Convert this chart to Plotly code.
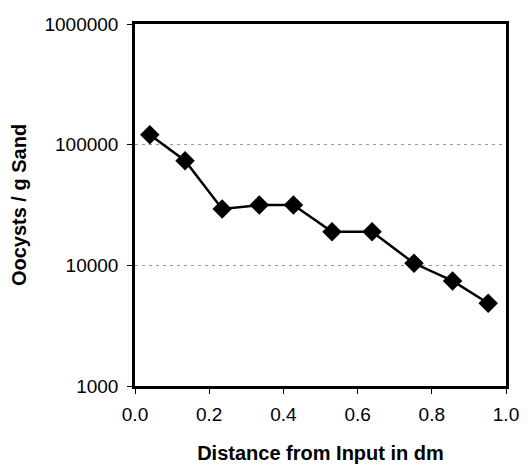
import plotly.graph_objects as go

distance_dm = [0.04, 0.135, 0.235, 0.335, 0.427, 0.531, 0.639, 0.752, 0.856, 0.952]
oocysts_per_g = [121000, 73700, 29300, 31600, 31600, 19000, 19000, 10400, 7430, 4850]

x_ticks = [0.0, 0.2, 0.4, 0.6, 0.8, 1.0]
x_tick_labels = ["0.0", "0.2", "0.4", "0.6", "0.8", "1.0"]
y_ticks = [1000, 10000, 100000, 1000000]
y_tick_labels = ["1000", "10000", "100000", "1000000"]

fig = go.Figure()
fig.add_trace(go.Scatter(
    x=distance_dm, y=oocysts_per_g, mode="lines+markers",
    line=dict(color="black", width=2.5),
    marker=dict(symbol="diamond", size=15, color="black"),
    showlegend=False, cliponaxis=False,
))

# page body has an 8px default margin, so the figure is sized/offset to fit the 528x464 window
fig.update_layout(
    width=520, height=456,
    margin=dict(l=127, r=22, t=16, b=78),
    paper_bgcolor="white", plot_bgcolor="white",
    font=dict(family="Liberation Sans, Arial, sans-serif", color="black"),
    xaxis=dict(
        range=[0, 1], tickvals=x_ticks, ticktext=x_tick_labels,
        ticks="outside", ticklen=5, tickwidth=1, tickcolor="black",
        showline=True, linecolor="black", linewidth=2.5, mirror=True,
        showgrid=False, zeroline=False, automargin=False,
        tickfont=dict(size=19), ticklabelstandoff=4,
        title=dict(text="<b>Distance from Input in dm</b>", font=dict(size=20), standoff=26),
    ),
    yaxis=dict(
        type="log", range=[3, 6], tickvals=y_ticks, ticktext=y_tick_labels,
        ticks="outside", ticklen=5, tickwidth=1, tickcolor="black",
        showline=True, linecolor="black", linewidth=2.5, mirror=True,
        showgrid=True, gridcolor="#999999", griddash="3px,4px", gridwidth=1,
        zeroline=False, automargin=False,
        tickfont=dict(size=19), ticklabelstandoff=5,
        title=dict(text="<b>Oocysts / g Sand</b>", font=dict(size=20), standoff=14),
    ),
)

fig.write_html("out.html")
